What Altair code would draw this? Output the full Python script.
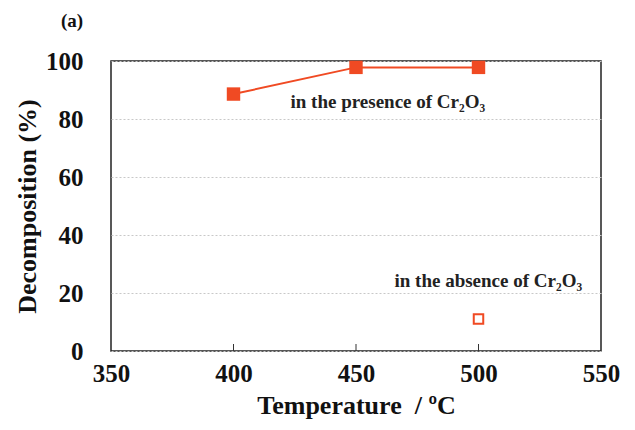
import altair as alt
import pandas as pd

temps_with = [400, 450, 500]
decomp_with = [88.6, 97.8, 97.8]
temps_without = [500]
decomp_without = [11.0]
x_ticks = [350, 400, 450, 500, 550]
y_ticks = [0, 20, 40, 60, 80, 100]
inner_ticks = [400, 450, 500]

labels_text = ["in the presence of Cr\u2082O\u2083", "in the absence of Cr\u2082O\u2083"]
labels_x = [463, 504]
labels_y = [86, 24]

RED = "#F04A23"
FONT = "Times New Roman, Liberation Serif, Tinos, serif"
W, H = 490, 290

df_with = pd.DataFrame({"T": temps_with, "D": decomp_with})
df_without = pd.DataFrame({"T": temps_without, "D": decomp_without})
df_lab = pd.DataFrame({"T": labels_x, "D": labels_y, "txt": labels_text})
df_ticks = pd.DataFrame({"T": inner_ticks})

xs = alt.Scale(domain=[350, 550], nice=False)
ys = alt.Scale(domain=[0, 100], nice=False)

xaxis = alt.Axis(values=x_ticks, title="Temperature\u00a0\u00a0/ \u00baC", grid=False, ticks=False,
                 domain=False, labelFont=FONT, labelFontSize=25, labelFontWeight="bold",
                 labelColor="#111", labelPadding=10, titleFont=FONT, titleFontSize=26,
                 titleFontWeight="bold", titleColor="#111", titlePadding=6,
                 labelFlush=False)
yaxis = alt.Axis(values=y_ticks, title="Decomposition (%)", grid=True, gridDash=[2, 2],
                 gridColor="#c8c8c8", gridWidth=1, ticks=False, domain=False,
                 labelFont=FONT, labelFontSize=25, labelFontWeight="bold", labelColor="#111",
                 labelPadding=28, titleFont=FONT, titleFontSize=26, titleFontWeight="bold",
                 titleColor="#111", titlePadding=5, labelFlush=False)

line = alt.Chart(df_with).mark_line(color=RED, strokeWidth=2).encode(
    x=alt.X("T:Q", scale=xs, axis=xaxis),
    y=alt.Y("D:Q", scale=ys, axis=yaxis),
)
pts = alt.Chart(df_with).mark_square(color=RED, size=180, opacity=1).encode(
    x=alt.X("T:Q", scale=xs), y=alt.Y("D:Q", scale=ys)
)
open_pts = alt.Chart(df_without).mark_square(filled=False, color=RED, size=90,
                                              strokeWidth=2, opacity=1).encode(
    x=alt.X("T:Q", scale=xs), y=alt.Y("D:Q", scale=ys)
)
labels = alt.Chart(df_lab).mark_text(font=FONT, fontSize=19, fontWeight="bold",
                                      color="#222", align="center", baseline="middle").encode(
    x=alt.X("T:Q", scale=xs), y=alt.Y("D:Q", scale=ys), text="txt:N"
)
ticks = alt.Chart(df_ticks).mark_rule(color="#333", strokeWidth=1).encode(
    x=alt.X("T:Q", scale=xs), y=alt.value(H), y2=alt.value(H - 7)
)
panel = alt.Chart(pd.DataFrame({"t": ["(a)"]})).mark_text(
    font=FONT, fontSize=19, fontWeight="bold", color="#111", align="left", baseline="middle"
).encode(x=alt.value(-50), y=alt.value(-40), text="t:N")

chart = alt.layer(line, pts, open_pts, labels, ticks, panel).properties(
    width=W, height=H,
    background="white",
    autosize=alt.AutoSizeParams(type="none"),
    padding={"left": 103, "top": 53, "right": 20, "bottom": 70},
).configure_view(stroke="#222222", strokeWidth=1.5)

chart.save("out.html", embed_options={"renderer": "svg", "actions": False})
